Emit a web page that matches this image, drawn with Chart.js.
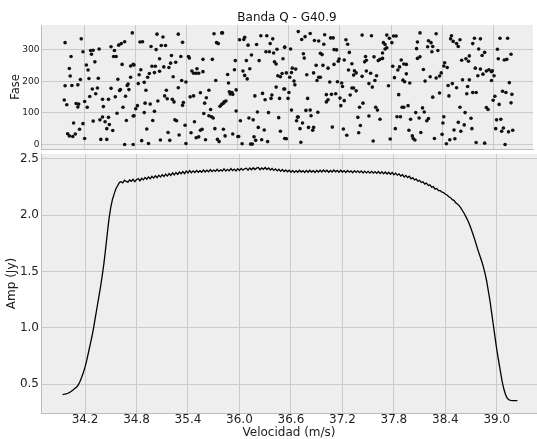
<!DOCTYPE html>
<html>
<head>
<meta charset="utf-8">
<script src="https://cdn.jsdelivr.net/npm/chart.js@4.4.0/dist/chart.umd.min.js"></script>
<style>
  html, body { margin: 0; padding: 0; background: #fff; }
  #wrap { position: relative; width: 537px; height: 439px; overflow: hidden; }
  canvas { position: absolute; left: 0; }
  #faseChart { top: 0; }
  #ampChart { top: 153px; }
</style>
</head>
<body>
<div id="wrap">
  <canvas id="faseChart" width="537" height="153"></canvas>
  <canvas id="ampChart" width="537" height="286"></canvas>
</div>
<script>
const titulo = 'Banda Q - G40.9';
const xTicks = [34.2, 34.8, 35.4, 36.0, 36.6, 37.2, 37.8, 38.4, 39.0];
const faseTicks = [0, 100, 200, 300];
const ampTicks = [0.5, 1.0, 1.5, 2.0, 2.5];

// espectro de amplitud (Jy) por canal de velocidad
const velocidad = [
  33.94,33.96,33.98,34.00,34.02,34.04,34.06,34.08,34.10,34.12,
  34.14,34.16,34.18,34.20,34.22,34.24,34.26,34.28,34.30,34.32,
  34.34,34.36,34.38,34.40,34.42,34.44,34.46,34.48,34.50,34.52,
  34.54,34.56,34.58,34.60,34.62,34.64,34.66,34.68,34.70,34.72,
  34.74,34.76,34.78,34.80,34.82,34.84,34.86,34.88,34.90,34.92,
  34.94,34.96,34.98,35.00,35.02,35.04,35.06,35.08,35.10,35.12,
  35.14,35.16,35.18,35.20,35.22,35.24,35.26,35.28,35.30,35.32,
  35.34,35.36,35.38,35.40,35.42,35.44,35.46,35.48,35.50,35.52,
  35.54,35.56,35.58,35.60,35.62,35.64,35.66,35.68,35.70,35.72,
  35.74,35.76,35.78,35.80,35.82,35.84,35.86,35.88,35.90,35.92,
  35.94,35.96,35.98,36.00,36.02,36.04,36.06,36.08,36.10,36.12,
  36.14,36.16,36.18,36.20,36.22,36.24,36.26,36.28,36.30,36.32,
  36.34,36.36,36.38,36.40,36.42,36.44,36.46,36.48,36.50,36.52,
  36.54,36.56,36.58,36.60,36.62,36.64,36.66,36.68,36.70,36.72,
  36.74,36.76,36.78,36.80,36.82,36.84,36.86,36.88,36.90,36.92,
  36.94,36.96,36.98,37.00,37.02,37.04,37.06,37.08,37.10,37.12,
  37.14,37.16,37.18,37.20,37.22,37.24,37.26,37.28,37.30,37.32,
  37.34,37.36,37.38,37.40,37.42,37.44,37.46,37.48,37.50,37.52,
  37.54,37.56,37.58,37.60,37.62,37.64,37.66,37.68,37.70,37.72,
  37.74,37.76,37.78,37.80,37.82,37.84,37.86,37.88,37.90,37.92,
  37.94,37.96,37.98,38.00,38.02,38.04,38.06,38.08,38.10,38.12,
  38.14,38.16,38.18,38.20,38.22,38.24,38.26,38.28,38.30,38.32,
  38.34,38.36,38.38,38.40,38.42,38.44,38.46,38.48,38.50,38.52,
  38.54,38.56,38.58,38.60,38.62,38.64,38.66,38.68,38.70,38.72,
  38.74,38.76,38.78,38.80,38.82,38.84,38.86,38.88,38.90,38.92,
  38.94,38.96,38.98,39.00,39.02,39.04,39.06,39.08,39.10,39.12,
  39.14,39.16,39.18,39.20,39.22,39.24
];
const amplitud = [
  0.405,0.410,0.412,0.418,0.425,0.435,0.447,0.460,0.472,0.490,
  0.520,0.558,0.600,0.650,0.710,0.780,0.850,0.920,1.000,1.090,
  1.180,1.270,1.360,1.460,1.570,1.700,1.840,1.970,2.070,2.140,
  2.190,2.235,2.262,2.290,2.298,2.288,2.312,2.300,2.294,2.314,
  2.302,2.320,2.298,2.316,2.326,2.306,2.328,2.314,2.336,2.320,
  2.340,2.324,2.346,2.330,2.350,2.334,2.356,2.340,2.360,2.344,
  2.366,2.348,2.370,2.354,2.376,2.358,2.380,2.362,2.384,2.368,
  2.388,2.370,2.392,2.376,2.396,2.378,2.394,2.380,2.398,2.382,
  2.396,2.382,2.402,2.384,2.400,2.386,2.406,2.388,2.402,2.390,
  2.408,2.390,2.404,2.392,2.412,2.392,2.408,2.394,2.414,2.396,
  2.410,2.394,2.414,2.398,2.416,2.400,2.412,2.418,2.400,2.420,
  2.404,2.422,2.406,2.418,2.424,2.404,2.420,2.408,2.424,2.406,
  2.420,2.402,2.416,2.398,2.412,2.394,2.408,2.390,2.406,2.388,
  2.402,2.386,2.400,2.382,2.398,2.380,2.396,2.382,2.400,2.384,
  2.396,2.380,2.398,2.382,2.400,2.384,2.396,2.380,2.398,2.384,
  2.400,2.384,2.402,2.386,2.400,2.382,2.398,2.384,2.402,2.386,
  2.398,2.382,2.400,2.384,2.396,2.380,2.398,2.382,2.394,2.378,
  2.396,2.380,2.394,2.378,2.394,2.376,2.392,2.376,2.390,2.374,
  2.390,2.374,2.388,2.372,2.388,2.370,2.386,2.368,2.384,2.366,
  2.382,2.364,2.380,2.360,2.374,2.356,2.368,2.348,2.360,2.340,
  2.354,2.334,2.346,2.324,2.334,2.314,2.322,2.302,2.310,2.290,
  2.296,2.276,2.286,2.264,2.270,2.248,2.254,2.232,2.238,2.218,
  2.219,2.206,2.202,2.186,2.180,2.164,2.156,2.138,2.132,2.111,
  2.100,2.085,2.065,2.040,2.015,1.985,1.955,1.920,1.880,1.835,
  1.790,1.740,1.690,1.645,1.600,1.550,1.490,1.420,1.330,1.240,
  1.130,1.020,0.910,0.800,0.710,0.620,0.530,0.460,0.410,0.375,
  0.360,0.355,0.352,0.352,0.353,0.352
];

// fase (grados) de cada punto
const faseVel = [
  33.97,34.16,34.76,34.04,34.18,34.27,34.30,34.28,34.37,34.51,34.55,34.60,34.63,34.67,34.54,34.57,
  34.32,34.22,34.02,34.24,34.64,34.74,34.77,34.03,34.15,34.25,34.36,34.59,34.74,34.71,34.70,33.97,
  34.05,34.12,34.29,34.35,34.51,34.62,34.61,34.72,34.33,34.26,34.41,34.48,34.56,34.68,33.96,33.99,
  34.10,34.13,34.12,34.20,34.23,34.42,34.65,34.58,34.77,34.41,34.38,34.44,34.30,34.48,34.49,34.46,
  34.53,34.69,34.07,34.18,34.14,34.00,34.02,34.06,34.09,34.20,34.39,34.46,34.67,34.77,
  34.85,34.88,35.05,35.12,35.30,35.35,34.98,35.04,35.10,35.15,34.78,34.86,34.99,35.03,35.08,35.13,
  35.19,35.21,35.22,35.27,35.33,35.42,35.43,35.59,34.84,34.96,35.02,35.08,34.94,35.24,35.34,35.39,
  35.46,35.48,35.51,35.54,35.52,35.59,34.83,34.90,34.92,35.30,35.16,35.14,35.17,35.23,35.25,35.36,
  35.35,35.06,34.91,34.97,34.82,34.80,34.90,35.02,35.44,35.48,35.56,35.63,35.61,35.60,35.00,35.26,
  35.28,35.38,35.49,34.78,34.93,35.18,35.31,35.45,35.56,35.58,35.51,35.54,35.62,34.87,34.95,35.09,
  35.20,35.39,
  35.72,35.81,35.82,35.75,35.77,36.02,36.07,36.08,36.12,36.22,36.27,36.34,36.41,36.38,36.33,36.37,
  36.42,36.46,36.55,36.16,35.70,35.97,36.10,36.25,36.43,36.45,36.53,35.96,36.06,36.14,35.88,36.08,
  36.11,36.47,36.50,36.52,35.74,35.89,35.66,35.98,35.90,35.91,35.93,35.94,35.86,35.84,35.83,35.81,
  35.79,36.45,36.54,36.29,36.20,36.40,36.32,36.39,36.49,35.68,35.98,36.23,36.36,35.66,35.69,35.71,
  36.13,36.18,36.03,36.48,35.73,35.83,36.24,36.31,36.50,35.85,35.94,36.00,36.01,36.19,35.76,35.78,
  36.21,36.28,36.35,36.05,36.15,36.17,36.55,
  36.71,36.75,36.79,36.85,36.90,36.95,37.01,37.02,37.09,37.12,37.27,37.29,36.55,36.62,37.13,37.16,
  37.31,36.77,36.78,36.97,36.99,37.19,37.18,37.25,37.13,37.34,36.92,37.00,37.06,36.64,36.68,36.57,
  36.63,37.30,37.37,37.39,37.36,36.81,36.89,36.95,36.97,36.61,36.93,36.66,36.67,37.08,37.17,37.22,
  37.23,37.34,37.36,37.39,36.55,36.60,37.04,37.10,37.15,37.32,36.59,36.82,37.06,37.04,37.20,37.25,
  37.21,37.43,36.63,36.80,36.85,36.94,36.86,36.70,36.71,36.69,36.76,36.73,36.83,36.89,36.88,37.11,
  37.24,37.41,37.42,37.28,36.57,36.74,
  37.46,37.57,37.75,37.78,37.83,37.86,37.81,37.71,37.73,37.75,37.73,38.14,38.11,38.24,38.27,38.23,
  38.29,38.10,38.33,38.28,37.70,37.60,37.65,37.67,37.70,37.50,37.51,37.49,37.92,37.95,37.98,37.90,
  37.88,37.82,38.11,38.14,38.18,37.51,37.56,37.63,37.46,37.84,37.98,37.94,37.96,38.02,38.20,38.26,
  38.33,37.61,37.54,37.58,37.77,37.89,38.29,37.47,37.62,37.64,37.93,37.95,38.00,38.17,38.09,38.19,
  37.54,37.67,37.87,37.91,38.03,38.13,38.22,38.24,37.44,37.85,38.01,38.15,38.05,38.06,38.08,38.31,
  37.79,37.59,
  38.51,38.50,38.53,38.57,38.59,38.61,38.78,38.85,38.76,38.83,38.35,38.90,38.87,38.72,38.68,38.71,
  38.63,38.43,38.42,38.46,39.08,39.17,39.05,39.21,39.06,39.13,39.16,38.79,38.85,38.92,38.95,38.98,
  38.99,38.88,38.82,39.01,38.39,38.37,38.64,38.72,38.98,39.19,38.47,38.52,38.57,38.70,38.37,38.48,
  38.69,38.76,38.80,39.11,39.15,39.22,39.02,39.00,39.21,39.07,38.61,38.92,38.94,38.67,38.42,38.74,
  39.04,39.09,38.41,38.59,38.66,38.54,38.62,38.75,39.03,39.12,39.10,39.18,39.23,38.40,38.49,38.55,
  38.45,38.80,38.90,39.14
];
const faseGrados = [
  323,335,354,279,294,298,299,286,303,310,298,315,320,326,279,279,
  262,252,241,236,254,249,254,217,206,209,210,207,213,192,187,186,
  187,189,176,179,178,174,171,174,161,152,143,143,151,153,141,126,
  130,128,119,136,118,120,118,99,90,87,78,72,74,86,63,50,
  44,76,68,66,48,34,27,25,33,19,16,16,0,0,
  325,326,350,341,350,324,311,301,314,314,252,237,248,248,272,246,
  244,258,282,261,279,279,274,270,221,225,228,232,213,215,203,198,
  233,226,226,226,240,231,193,197,172,180,172,154,145,143,135,133,
  124,138,131,128,123,113,101,105,151,154,164,148,131,98,76,78,
  75,61,72,91,49,38,30,37,45,48,21,24,15,12,3,14,
  13,3,
  351,354,354,323,320,332,333,340,315,317,345,345,335,320,294,294,
  290,302,308,284,270,266,266,266,262,255,272,237,233,240,222,219,
  208,218,215,225,203,195,172,173,167,160,165,159,138,135,131,127,
  121,182,176,162,154,157,142,146,146,111,106,103,101,91,88,84,
  84,78,75,85,50,48,54,46,42,27,33,25,25,24,16,9,
  13,15,9,2,1,1,19,
  358,333,342,352,330,328,318,348,338,338,332,318,309,303,301,300,
  292,288,274,289,285,271,264,268,254,256,251,251,242,242,239,227,
  228,236,234,227,220,221,227,213,213,213,203,201,189,198,199,195,
  184,179,179,170,176,165,158,159,161,157,146,146,142,135,147,139,
  123,118,109,108,109,102,91,87,87,75,68,50,54,54,45,55,
  49,86,37,29,18,7,
  347,345,347,337,344,344,323,323,317,307,303,354,325,329,323,310,
  311,304,351,294,290,278,266,270,273,279,267,262,268,255,254,246,
  236,248,273,278,238,233,226,218,216,212,224,204,199,195,201,215,
  211,203,193,182,186,158,150,131,118,109,118,118,123,116,101,103,
  90,80,88,88,80,84,75,82,60,50,45,38,27,19,14,19,
  17,11,
  345,335,327,320,311,332,337,335,320,303,298,292,282,281,272,264,
  267,259,249,244,337,337,302,286,272,268,270,242,239,233,237,231,
  234,223,218,218,227,217,205,205,203,196,187,193,180,184,163,154,
  161,165,165,169,165,159,153,140,132,127,118,117,111,101,88,83,
  78,80,68,70,62,46,42,50,50,52,42,40,45,32,15,18,
  2,6,4,0
];

Chart.defaults.font.family = "'DejaVu Sans', sans-serif";
Chart.defaults.color = '#222';

const gridColor = '#cbcbcb';
const borderColor = '#bcbcbc';

const fondo = {
  id: 'fondo',
  beforeDraw(chart) {
    const { ctx, chartArea: a } = chart;
    ctx.save();
    ctx.fillStyle = '#eeeeee';
    ctx.fillRect(a.left, a.top, a.right - a.left, a.bottom - a.top);
    ctx.restore();
  }
};

function fixTicks(list) {
  return (scale) => { scale.ticks = list.map(v => ({ value: v })); };
}

// panel superior: fase
new Chart(document.getElementById('faseChart'), {
  type: 'scatter',
  data: {
    datasets: [{
      data: faseVel.map((v, i) => ({ x: v, y: faseGrados[i] })),
      backgroundColor: '#111',
      borderWidth: 0,
      pointRadius: 1.8
    }]
  },
  options: {
    responsive: false,
    animation: false,
    devicePixelRatio: 1,
    layout: { padding: 0 },
    plugins: {
      legend: { display: false },
      tooltip: { enabled: false },
      title: {
        display: true,
        text: titulo,
        fullSize: false,
        color: '#111',
        font: { size: 12, weight: 'normal' },
        padding: { top: 10.6, bottom: 0 }
      }
    },
    scales: {
      x: {
        type: 'linear',
        min: 33.687,
        max: 39.468,
        afterBuildTicks: fixTicks(xTicks),
        afterFit: s => { s.height = 0; s.paddingLeft = 0; s.paddingRight = 0; },
        ticks: { display: false },
        grid: { color: gridColor, drawTicks: false },
        border: { color: borderColor }
      },
      y: {
        min: -14.5,
        max: 379,
        afterBuildTicks: fixTicks(faseTicks),
        afterFit: s => { s.width = 41; s.paddingTop = 0; s.paddingBottom = 0; },
        ticks: { font: { size: 9 }, padding: 1.5 },
        grid: { color: gridColor, drawTicks: false },
        border: { color: borderColor },
        title: { display: true, text: 'Fase', font: { size: 11.5 }, padding: { top: 9, bottom: 0 } }
      }
    }
  },
  plugins: [fondo]
});

// panel inferior: amplitud
new Chart(document.getElementById('ampChart'), {
  type: 'line',
  data: {
    datasets: [{
      data: velocidad.map((v, i) => ({ x: v, y: amplitud[i] })),
      borderColor: '#000',
      borderWidth: 1.3,
      pointRadius: 0,
      fill: false,
      tension: 0
    }]
  },
  options: {
    responsive: false,
    animation: false,
    devicePixelRatio: 1,
    layout: { padding: { top: 1, left: 0, right: 0, bottom: 0 } },
    plugins: {
      legend: { display: false },
      tooltip: { enabled: false }
    },
    scales: {
      x: {
        type: 'linear',
        min: 33.687,
        max: 39.468,
        afterBuildTicks: fixTicks(xTicks),
        afterFit: s => { s.height = 26; s.paddingLeft = 0; s.paddingRight = 0; },
        ticks: { font: { size: 12 }, padding: 0, maxRotation: 0, autoSkip: false, callback: v => v.toFixed(1) },
        grid: { color: gridColor, drawTicks: false },
        border: { color: borderColor },
        title: { display: true, text: 'Velocidad (m/s)', font: { size: 12, lineHeight: 1 }, padding: 0 }
      },
      y: {
        min: 0.2425,
        max: 2.544,
        afterBuildTicks: fixTicks(ampTicks),
        afterFit: s => { s.width = 41; s.paddingTop = 0; s.paddingBottom = 0; },
        ticks: { font: { size: 12 }, padding: 2, callback: v => v.toFixed(1) },
        grid: { color: gridColor, drawTicks: false },
        border: { color: borderColor },
        title: { display: true, text: 'Amp (Jy)', font: { size: 12 }, padding: { top: 5, bottom: 0 } }
      }
    }
  },
  plugins: [fondo]
});
</script>
</body>
</html>
